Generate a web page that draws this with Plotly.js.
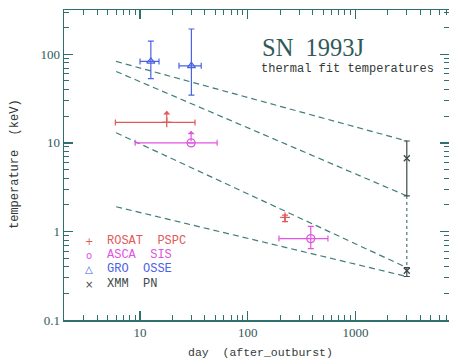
<!DOCTYPE html>
<html>
<head>
<meta charset="utf-8">
<script src="https://cdn.plot.ly/plotly-3.0.1.min.js"></script>
<style>html,body{margin:0;padding:0;background:#fff}#chart{width:449px;height:360px}</style>
</head>
<body>
<div id="chart"></div>
<script>
// ROSAT PSPC
var rosatDay = [17.7, 222];
var rosatT = [17, 1.44];
var rosatDayLo = [5.9, 222];
var rosatDayHi = [32.4, 222];
var rosatTLo = [17, 1.29];
var rosatTHi = [17, 1.53];
var rosatLimitTop = [23, null];
// ASCA SIS
var ascaDay = [29.8, 385];
var ascaT = [10, 0.83];
var ascaDayLo = [9, 195];
var ascaDayHi = [52, 556];
var ascaTLo = [10, 0.64];
var ascaTHi = [10, 1.14];
var ascaLimitTop = [13.7, null];
// GRO OSSE
var groDay = [12.6, 30];
var groT = [83, 74];
var groDayLo = [10, 23];
var groDayHi = [15, 37];
var groTLo = [53, 34.5];
var groTHi = [141, 193];
// XMM PN
var xmmDay = [3000, 3000];
var xmmT = [6.7, 0.36];
var xmmTLo = [2.52, 0.31];
var xmmTHi = [10.5, 0.39];
// dashed model lines
var lineDay = [6, 3000];
var line1T = [83, 10.5];
var line2T = [64, 2.52];
var line3T = [13, 0.39];
var line4T = [1.9, 0.31];
// dotted connector
var dotDay = [3000, 3000];
var dotT = [2.52, 0.39];
// ticks
var xTicks = [10, 100, 1000];
var xTickText = ['10', '100', '1000'];
var yTicks = [0.1, 1, 10, 100];
var yTickText = ['0.1', '1', '10', '100'];

var cRosat = '#e05a5a', cAsca = '#e055e0', cGro = '#4a62e6', cXmm = '#3e4a4a';
var cLine = '#3f7d7a', cFrame = '#2f6f6e', cText = '#2f5a5a';

function diff(a, b) { return a.map(function (v, i) { return v - b[i]; }); }
function diffR(a, b) { return a.map(function (v, i) { return b[i] - v; }); }

function errTrace(x, y, xlo, xhi, ylo, yhi, color, symbol, size) {
  var t = {
    x: x, y: y, type: 'scatter', mode: 'markers', showlegend: false,
    marker: { symbol: symbol, size: size, color: color, line: { color: color, width: 1.3 } },
    error_y: { type: 'data', symmetric: false, array: diff(yhi, y), arrayminus: diffR(ylo, y), color: color, thickness: 1.2, width: 3 },
    cliponaxis: false
  };
  if (xlo) {
    t.error_x = { type: 'data', symmetric: false, array: diff(xhi, x), arrayminus: diffR(xlo, x), color: color, thickness: 1.2, width: 3 };
  }
  return t;
}

var traces = [];
[line1T, line2T, line3T, line4T].forEach(function (ly) {
  traces.push({ x: lineDay, y: ly, type: 'scatter', mode: 'lines', showlegend: false,
    line: { color: cLine, width: 1.2, dash: '6px,4px' } });
});
traces.push({ x: dotDay, y: dotT, type: 'scatter', mode: 'lines', showlegend: false,
  line: { color: cLine, width: 1.2, dash: 'dot' } });
traces.push(errTrace(rosatDay, rosatT, rosatDayLo, rosatDayHi, rosatTLo, rosatTHi, cRosat, 'cross-thin-open', 7));
traces.push(errTrace(ascaDay, ascaT, ascaDayLo, ascaDayHi, ascaTLo, ascaTHi, cAsca, 'circle-open', 8));
traces.push(errTrace(groDay, groT, groDayLo, groDayHi, groTLo, groTHi, cGro, 'triangle-up-open', 7));
traces.push(errTrace(xmmDay, xmmT, null, null, xmmTLo, xmmTHi, cXmm, 'x-thin-open', 6));

var annotations = [];
function limitArrow(dx, dy, top, color) {
  dx.forEach(function (d, i) {
    if (top[i] == null) return;
    annotations.push({ x: Math.log10(d), y: Math.log10(top[i]), ax: Math.log10(d), ay: Math.log10(dy[i]),
      xref: 'x', yref: 'y', axref: 'x', ayref: 'y', text: '', showarrow: true,
      arrowhead: 1, arrowsize: 1, arrowwidth: 1.2, arrowcolor: color, standoff: 0, startstandoff: 0 });
  });
}
limitArrow(rosatDay, rosatT, rosatLimitTop, cRosat);
limitArrow(ascaDay, ascaT, ascaLimitTop, cAsca);

var L = 64, T = 10, W = 385, H = 310;
function px(x) { return (x - L) / W; }
function py(y) { return (T + H - y) / H; }

annotations.push({ xref: 'paper', yref: 'paper', x: px(260), y: py(48), xanchor: 'left', yanchor: 'middle',
  text: 'SN  1993J', showarrow: false, font: { family: 'Liberation Serif, serif', size: 24.5, color: cText } });
annotations.push({ xref: 'paper', yref: 'paper', x: px(259), y: py(69), xanchor: 'left', yanchor: 'middle',
  text: 'thermal fit temperatures', showarrow: false, font: { family: 'Liberation Mono, monospace', size: 12, color: '#333a3a' } });
annotations.push({ xref: 'paper', yref: 'paper', x: px(15), y: py(164), xanchor: 'center', yanchor: 'middle', textangle: -90,
  text: 'temperature  (keV)', showarrow: false, font: { family: 'Liberation Mono, monospace', size: 12, color: '#333a3a' } });
annotations.push({ xref: 'paper', yref: 'paper', x: px(260), y: py(352), xanchor: 'center', yanchor: 'middle',
  text: 'day  (after_outburst)', showarrow: false, font: { family: 'Liberation Mono, monospace', size: 11.5, color: '#333a3a' } });

var legendItems = [
  { sym: '+', name: 'ROSAT  PSPC', color: cRosat, y: 241 },
  { sym: 'o', name: 'ASCA  SIS', color: cAsca, y: 255 },
  { sym: '△', name: 'GRO  OSSE', color: cGro, y: 269 },
  { sym: '×', name: 'XMM  PN', color: cXmm, y: 284 }
];
legendItems.forEach(function (it) {
  annotations.push({ xref: 'paper', yref: 'paper', x: px(89), y: py(it.y), xanchor: 'center', yanchor: 'middle',
    text: it.sym, showarrow: false, font: { family: 'DejaVu Sans, sans-serif', size: 10, color: it.color } });
  annotations.push({ xref: 'paper', yref: 'paper', x: px(105), y: py(it.y), xanchor: 'left', yanchor: 'middle',
    text: it.name, showarrow: false, font: { family: 'Liberation Mono, monospace', size: 12, color: it.color } });
});

var axisCommon = {
  type: 'log', showgrid: false, zeroline: false, showline: true, linecolor: cFrame, linewidth: 1.5,
  mirror: 'allticks', ticks: 'inside', ticklen: 9, tickwidth: 1.3, tickcolor: cFrame, tickmode: 'array',
  tickfont: { family: 'Liberation Serif, serif', size: 13, color: cText },
  minor: { ticks: 'inside', ticklen: 5, tickwidth: 1, tickcolor: cFrame, dtick: 'D1', showgrid: false }
};

var layout = {
  width: 449, height: 360,
  margin: { l: L, r: 449 - L - W, t: T, b: 360 - T - H, pad: 0 },
  paper_bgcolor: '#fff', plot_bgcolor: '#fff', showlegend: false,
  xaxis: Object.assign({}, axisCommon, { range: [0.294, 3.869], tickvals: xTicks, ticktext: xTickText }),
  yaxis: Object.assign({}, axisCommon, { range: [-1, 2.5], tickvals: yTicks, ticktext: yTickText }),
  annotations: annotations
};

Plotly.newPlot('chart', traces, layout, { displayModeBar: false, staticPlot: true });
</script>
</body>
</html>
